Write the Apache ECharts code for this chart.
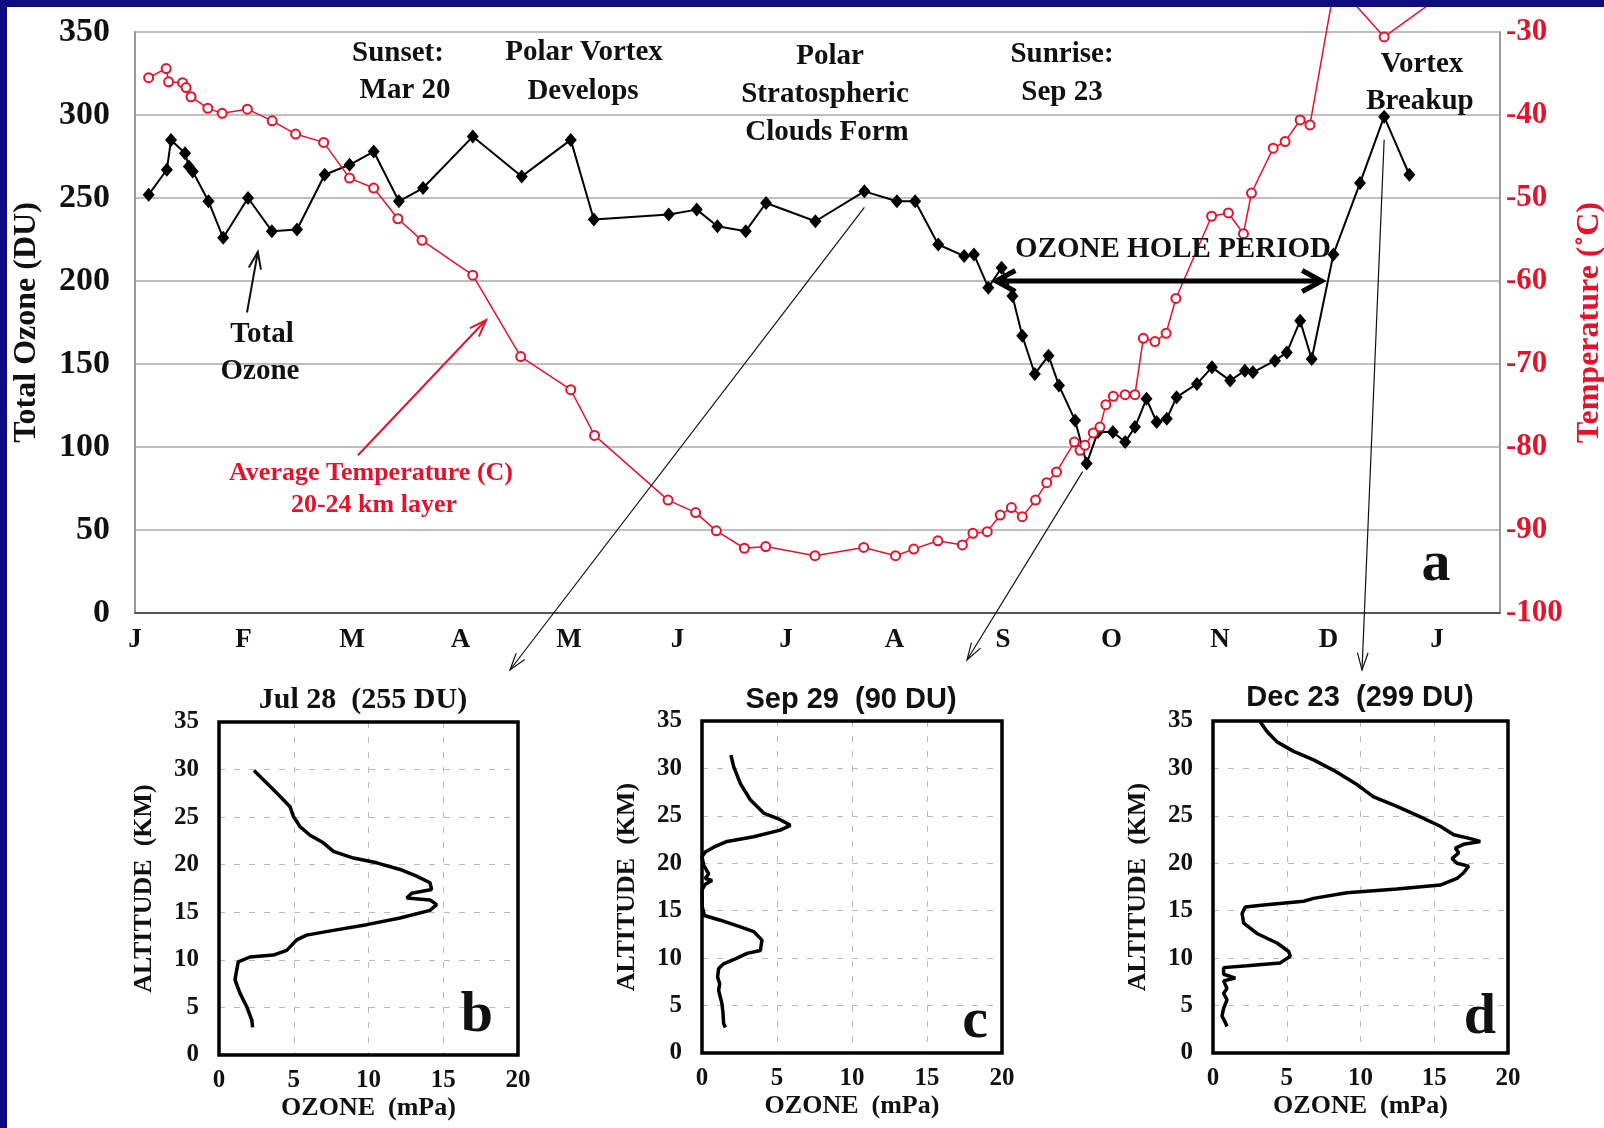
<html>
<head>
<meta charset="utf-8">
<title>Ozone hole</title>
<script src="https://cdn.jsdelivr.net/npm/echarts@6/dist/echarts.min.js"></script>
<style>
  html, body { margin: 0; padding: 0; background: #fff; }
  #main { width: 1604px; height: 1128px; }
</style>
</head>
<body>
<div id="main"></div>
<script type="text/javascript">
// month letters, one tick every 31 days
var monthLabels = ['J','F','M','A','M','J','J','A','S','O','N','D','J'];

// total ozone (day of year, DU)
var ozoneDays = [3.9, 9.1, 10.3, 14.3, 15.4, 16.5, 21, 25.2, 32.3, 39.1, 46.3, 54.2, 61.3, 68.2, 75.4,
  82.3, 96.5, 110.5, 124.5, 131.1, 152.5, 160.5, 166.4, 174.5, 180.3, 194.4, 208.4, 217.7, 222.9, 229.5,
  236.9, 239.7, 243.8, 247.6, 250.7, 253.5, 257.1, 261, 264, 268.6, 271.9, 275.1, 279.4, 282.9, 285.7,
  289, 291.9, 294.8, 297.6, 303.4, 307.7, 312.9, 317.1, 319.4, 325.7, 329.1, 332.9, 336.2, 342.4, 350,
  356.9, 364.1];
var ozoneDU = [252, 267, 285, 277, 269, 266, 248, 226, 250, 230, 231, 264, 270, 278, 248,
  256, 287, 263, 285, 237, 240, 243, 233, 230, 247, 236, 254, 248, 248, 222,
  215, 216, 196, 208, 191, 167, 144, 155, 137, 116, 90, 109, 109, 103, 112,
  129, 115, 117, 130, 138, 148, 140, 146, 145, 152, 157, 176, 153, 216, 259,
  299, 264];

// average temperature 20-24 km (day of year, C)
var tempDays = [3.9, 8.9, 9.6, 13.6, 14.6, 16, 20.8, 24.9, 32.1, 39.2, 45.9, 53.9, 61.3, 68.2, 75.1,
  82, 96.5, 110.2, 124.5, 131.3, 152.3, 160.2, 166.1, 174.1, 180.2, 194.3, 208.2, 217.3, 222.5, 229.4,
  236.4, 239.4, 243.5, 247.2, 250.4, 253.5, 257.3, 260.5, 263.3, 268.4, 270, 271.4, 273.8, 275.7, 277.4,
  279.5, 282.9, 285.7, 288.1, 291.4, 294.6, 297.4, 307.6, 312.4, 316.7, 319, 325.2, 328.6, 332.9, 335.7,
  342.9, 356.9, 372];
var tempC = [-35.5, -34.4, -36.0, -36.1, -36.7, -37.8, -39.2, -39.8, -39.3, -40.7, -42.3, -43.3, -47.6, -48.8, -52.5,
  -55.1, -59.3, -69.1, -73.1, -78.6, -86.4, -87.9, -90.1, -92.2, -92.0, -93.1, -92.1, -93.1, -92.3, -91.3,
  -91.8, -90.4, -90.2, -88.2, -87.3, -88.4, -86.4, -84.3, -83.0, -79.4, -80.4, -79.8, -78.3, -77.6, -74.9,
  -73.9, -73.7, -73.7, -66.9, -67.3, -66.3, -62.1, -52.2, -51.8, -54.3, -49.4, -44.0, -43.2, -40.6, -41.2,
  -24, -30.6, -26];

// ozone profiles (mPa against km)
var julOzone = [2.34,3.19,4.08,4.75,4.97,5.42,6.09,6.98,7.65,8.99,10.55,12.11,13.22,14.11,14.22,12.89,12.56,14.11,
  14.56,14.11,12.11,9.88,7.65,5.86,5.2,4.53,3.63,2.07,1.29,1.18,1.07,1.4,1.85,2.19,2.25];
var julAlt = [29.9,28.6,27.2,26.1,25.1,24.0,23.1,22.3,21.4,20.7,20.2,19.5,18.8,18.1,17.4,17.0,16.5,16.3,
  15.8,15.2,14.4,13.7,13.1,12.6,12.1,11.0,10.5,10.3,9.8,8.9,7.9,6.5,5.1,3.7,2.9];
var sepOzone = [1.93,2.11,2.56,3.22,4.11,5.22,5.89,5.22,3.44,1.67,0.78,0.22,0.0,0.11,0.44,0.22,0.67,0.22,0.0,
  0.02,0.16,1.22,2.56,3.44,4.0,3.89,3.0,2.33,1.44,1.11,1.04,1.18,1.11,1.22,1.33,1.4,1.44,1.56];
var sepAlt = [31.4,30.2,28.4,26.7,25.3,24.6,24.0,23.5,22.8,22.3,21.7,21.2,20.7,19.8,18.9,18.4,18.2,17.8,17.2,
  15.4,14.5,14.0,13.3,12.8,11.9,10.8,10.5,10.0,9.4,8.9,8.0,7.3,6.6,5.9,5.2,4.2,3.1,2.7];
var decOzone = [3.21,3.66,4.34,5.47,6.82,8.18,9.76,10.89,12.47,14.06,15.41,16.32,17.45,18.12,16.99,16.43,16.66,
  16.2,16.54,17.33,16.99,16.54,15.41,12.47,9.08,6.82,6.15,3.43,2.19,1.97,2.08,2.98,4.34,5.13,5.24,4.56,2.31,
  0.72,0.72,1.51,0.72,0.95,0.72,0.95,0.72,0.61,0.84,0.95];
var decAlt = [34.9,33.9,32.8,31.8,30.9,29.8,28.3,27.0,26.0,24.9,23.9,23.0,22.6,22.3,22.0,21.6,21.1,20.5,20.0,
  19.7,19.0,18.4,17.7,17.3,16.9,16.3,16.0,15.6,15.4,14.7,13.7,12.6,11.6,10.7,10.2,9.5,9.2,9.0,8.3,7.9,7.6,
  6.8,6.3,5.6,4.7,3.9,3.2,2.8];

// annotation arrows in data units
var holeStart = 246, holeEnd = 339, holeLevel = 200;
var totalArrow = [[32, 181], [35.1, 217.5]];
var tempArrow = [[63.7, -81.0], [100.3, -64.7]];

var SERIF = '"Liberation Serif", "Times New Roman", serif';
var SANS = '"Liberation Sans", Arial, sans-serif';
var RED = '#e3132b';

function pairs(xs, ys) { return xs.map(function (x, i) { return [x, ys[i]]; }); }

var myChart = echarts.init(document.getElementById('main'));

var panelGrids = [
  {left: 219, right: 1086, top: 722, bottom: 73},
  {left: 702, right: 602, top: 721, bottom: 75},
  {left: 1213, right: 96, top: 721, bottom: 75}
];

var grids = [{left: 135, right: 104, top: 32, bottom: 515, outerBoundsMode: 'none'}];
var xAxes = [{
  gridIndex: 0, type: 'value', min: 0, max: 390, interval: 31,
  axisLine: {show: true, lineStyle: {color: '#555', width: 2}},
  axisTick: {show: false},
  splitLine: {show: false},
  axisLabel: {
    margin: 14, color: '#111', fontFamily: SERIF, fontWeight: 'bold', fontSize: 27,
    formatter: function (v) {
      var i = v / 31;
      return (Math.round(i) === i && i < monthLabels.length) ? monthLabels[i] : '';
    }
  }
}];
var yAxes = [{
  gridIndex: 0, type: 'value', position: 'left', min: 0, max: 350, interval: 50,
  name: 'Total Ozone (DU)', nameLocation: 'middle', nameRotate: 90, nameGap: 92,
  nameTextStyle: {color: '#111', fontFamily: SERIF, fontWeight: 'bold', fontSize: 32},
  axisLine: {show: true, lineStyle: {color: '#999', width: 2}},
  axisTick: {show: false},
  splitLine: {show: true, lineStyle: {color: '#aaa', width: 1.5}},
  axisLabel: {margin: 25, color: '#111', fontFamily: SERIF, fontWeight: 'bold', fontSize: 34}
}, {
  gridIndex: 0, type: 'value', position: 'right', min: -100, max: -30, interval: 10,
  name: 'Temperature (\u02DAC)', nameLocation: 'middle', nameRotate: 90, nameGap: 64,
  nameTextStyle: {color: RED, fontFamily: SERIF, fontWeight: 'bold', fontSize: 32},
  axisLine: {show: true, lineStyle: {color: '#999', width: 2}},
  axisTick: {show: false},
  splitLine: {show: false},
  axisLabel: {margin: 6, color: RED, fontFamily: SERIF, fontWeight: 'bold', fontSize: 31}
}];

panelGrids.forEach(function (g, k) {
  grids.push({left: g.left, right: g.right, top: g.top, bottom: g.bottom, show: true,
    borderWidth: 0, backgroundColor: '#fff', outerBoundsMode: 'none'});
  xAxes.push({
    gridIndex: k + 1, type: 'value', min: 0, max: 20, interval: 5,
    name: 'OZONE  (mPa)', nameLocation: 'middle', nameGap: 40,
    nameTextStyle: {color: '#111', fontFamily: SERIF, fontWeight: 'bold', fontSize: 26},
    axisLine: {show: false}, axisTick: {show: false},
    splitLine: {show: true, lineStyle: {color: '#bbb', type: [6, 9], width: 1}},
    axisLabel: {margin: 13, color: '#111', fontFamily: SERIF, fontWeight: 'bold', fontSize: 25}
  });
  yAxes.push({
    gridIndex: k + 1, type: 'value', min: 0, max: 35, interval: 5,
    name: 'ALTITUDE  (KM)', nameLocation: 'middle', nameRotate: 90, nameGap: 62,
    nameTextStyle: {color: '#111', fontFamily: SERIF, fontWeight: 'bold', fontSize: 26},
    axisLine: {show: false}, axisTick: {show: false},
    splitLine: {show: true, lineStyle: {color: '#bbb', type: [6, 9], width: 1}},
    axisLabel: {margin: 20, color: '#111', fontFamily: SERIF, fontWeight: 'bold', fontSize: 25}
  });
});

function profileSeries(k, xs, ys) {
  return {
    type: 'line', xAxisIndex: k, yAxisIndex: k + 1, data: pairs(xs, ys),
    showSymbol: false, lineStyle: {color: '#000', width: 3.5}, z: 3
  };
}

var option = {
  animation: false,
  backgroundColor: '#fff',
  grid: grids,
  xAxis: xAxes,
  yAxis: yAxes,
  series: [
    {
      name: 'Total Ozone', type: 'line', xAxisIndex: 0, yAxisIndex: 0,
      data: pairs(ozoneDays, ozoneDU),
      symbol: 'diamond', symbolSize: [12, 14],
      itemStyle: {color: '#000'}, lineStyle: {color: '#000', width: 2}, z: 3
    },
    {
      name: 'Average Temperature', type: 'line', xAxisIndex: 0, yAxisIndex: 1,
      data: pairs(tempDays, tempC), clip: false,
      symbol: 'emptyCircle', symbolSize: 9,
      itemStyle: {color: RED, borderWidth: 1.5}, lineStyle: {color: RED, width: 1.5}, z: 4
    },
    profileSeries(1, julOzone, julAlt),
    profileSeries(2, sepOzone, sepAlt),
    profileSeries(3, decOzone, decAlt)
  ]
};
myChart.setOption(option);

// ---- annotations ----
function toPx(x, y, yIdx) {
  return myChart.convertToPixel({xAxisIndex: 0, yAxisIndex: yIdx || 0}, [x, y]);
}
function arrow(p0, p1, color, width, len, ang, both) {
  var dx = p1[0] - p0[0], dy = p1[1] - p0[1], L = Math.sqrt(dx * dx + dy * dy);
  var ux = dx / L, uy = dy / L, c = Math.cos(ang), s = Math.sin(ang);
  function head(tip, bx, by) {
    return {
      type: 'polyline', z: 50,
      shape: {points: [
        [tip[0] + len * (bx * c - by * s), tip[1] + len * (bx * s + by * c)],
        [tip[0], tip[1]],
        [tip[0] + len * (bx * c + by * s), tip[1] + len * (-bx * s + by * c)]
      ]},
      style: {stroke: color, lineWidth: width, fill: null}
    };
  }
  var els = [{type: 'line', z: 50, shape: {x1: p0[0], y1: p0[1], x2: p1[0], y2: p1[1]},
    style: {stroke: color, lineWidth: width}}];
  els.push(head(p1, -ux, -uy));
  if (both) els.push(head(p0, ux, uy));
  return els;
}
function txt(x, y, text, size, color, family) {
  return {
    type: 'text', x: x, y: y, z: 40,
    style: {text: text, fill: color || '#111', font: 'bold ' + size + 'px ' + (family || SERIF),
      textAlign: 'center', textVerticalAlign: 'middle'}
  };
}

var iJul = ozoneDays.indexOf(208.4), iSep = ozoneDays.indexOf(271.9), iDec = ozoneDays.indexOf(356.9);
var pJul = toPx(ozoneDays[iJul], ozoneDU[iJul]);
var pSep = toPx(ozoneDays[iSep], ozoneDU[iSep]);
var pDec = toPx(ozoneDays[iDec], ozoneDU[iDec]);

var g = [];
g = g.concat(arrow(toPx(holeStart, holeLevel), toPx(holeEnd, holeLevel), '#000', 5, 22, 0.5, true));
g = g.concat(arrow(toPx(totalArrow[0][0], totalArrow[0][1]), toPx(totalArrow[1][0], totalArrow[1][1]), '#111', 2, 18, 0.35, false));
g = g.concat(arrow(toPx(tempArrow[0][0], tempArrow[0][1], 1), toPx(tempArrow[1][0], tempArrow[1][1], 1), RED, 2, 18, 0.35, false));
g = g.concat(arrow([pJul[0], pJul[1] + 16], [510, 670], '#111', 1.2, 18, 0.3, false));
g = g.concat(arrow([pSep[0] - 4, pSep[1] + 8], [967, 660], '#111', 1.2, 18, 0.3, false));
g = g.concat(arrow([pDec[0], pDec[1] + 23], [1362, 670], '#111', 1.2, 18, 0.3, false));

// black frames of the three profile panels, drawn over the dashed grid
[1, 2, 3].forEach(function (k) {
  var a = myChart.convertToPixel({xAxisIndex: k, yAxisIndex: k + 1}, [0, 0]);
  var b = myChart.convertToPixel({xAxisIndex: k, yAxisIndex: k + 1}, [20, 35]);
  g.push({type: 'rect', z: 60, shape: {x: a[0], y: b[1], width: b[0] - a[0], height: a[1] - b[1]},
    style: {fill: null, stroke: '#000', lineWidth: 3.5}});
});

g.push(
  txt(398, 54, 'Sunset:', 29), txt(405, 91, 'Mar 20', 29),
  txt(584, 53, 'Polar Vortex', 29), txt(583, 92, 'Develops', 29),
  txt(830, 57, 'Polar', 29), txt(825, 95, 'Stratospheric', 29), txt(827, 133, 'Clouds Form', 29),
  txt(1062, 55, 'Sunrise:', 29), txt(1062, 93, 'Sep 23', 29),
  txt(1422, 65, 'Vortex', 29), txt(1420, 102, 'Breakup', 29),
  txt(1173, 250, 'OZONE HOLE PERIOD', 29),
  txt(262, 335, 'Total', 29), txt(260, 372, 'Ozone', 29),
  txt(371, 473, 'Average Temperature (C)', 26, RED), txt(374, 505, '20-24 km layer', 26, RED),
  txt(1436, 565, 'a', 58),
  txt(477, 1016, 'b', 58), txt(975, 1022, 'c', 58), txt(1480, 1018, 'd', 58),
  txt(363, 700, 'Jul 28  (255 DU)', 30),
  txt(851, 700, 'Sep 29  (90 DU)', 29, '#111', SANS),
  txt(1360, 698, 'Dec 23  (299 DU)', 29, '#111', SANS)
);

// navy frame on top and left edges
g.push({type: 'rect', z: 100, shape: {x: 0, y: 0, width: 1604, height: 7}, style: {fill: '#0c0c7c'}});
g.push({type: 'rect', z: 100, shape: {x: 0, y: 0, width: 7, height: 1128}, style: {fill: '#0c0c7c'}});

myChart.setOption({graphic: {elements: g}});
</script>
</body>
</html>
